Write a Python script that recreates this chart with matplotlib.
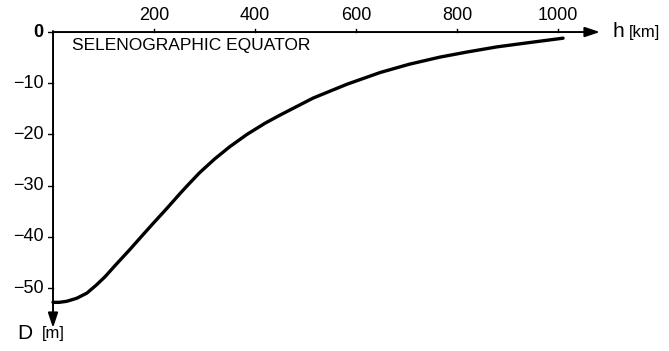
import matplotlib

matplotlib.use("Agg")
import matplotlib.pyplot as plt  # noqa: E402

plt.rcParams["font.family"] = ["Liberation Sans", "DejaVu Sans"]

# altitude h [km] and depression D [m] along the selenographic equator
h_km = [0, 12, 27, 47, 67, 86, 103, 123, 152, 179, 199, 225, 251, 265, 290, 320, 350, 384,
        420, 450, 515, 582, 648, 705, 766, 820, 879, 940, 1010]
d_m = [-52.8, -52.8, -52.6, -52.0, -51.0, -49.4, -47.8, -45.6, -42.5, -39.5, -37.3, -34.5,
       -31.6, -30.1, -27.5, -24.8, -22.4, -20.0, -17.8, -16.2, -12.9, -10.2, -7.9, -6.3,
       -4.9, -3.9, -2.9, -2.1, -1.2]

x_ticks = [200, 400, 600, 800, 1000]
y_ticks = [0, -10, -20, -30, -40, -50]
x_end, y_end = 1083, -57.8

fig = plt.figure(figsize=(6.69, 3.51), dpi=100)
ax = fig.add_axes([0.0717, 0.0336, 0.8379, 0.9043])
ax.set_xlim(-10, 1100)
ax.set_ylim(-60, 2)
ax.axis("off")

ax.plot(h_km, d_m, color="black", lw=2.4, solid_capstyle="round", solid_joinstyle="round")

# axes drawn as arrows: h to the right along D = 0, D downward along h = 0
arrow = dict(arrowstyle="-|>,head_length=0.9,head_width=0.3", color="black", lw=1.4,
             shrinkA=0, shrinkB=0)
ax.annotate("", xy=(x_end, 0), xytext=(0, 0), arrowprops=arrow)
ax.annotate("", xy=(0, y_end), xytext=(0, 0.2), arrowprops=arrow)

for t in x_ticks:
    ax.plot([t, t], [0, 0.6], color="black", lw=1.0)
    ax.text(t, 1.5, f"{t}", ha="center", va="bottom", fontsize=13)
for t in y_ticks:
    ax.plot([-9, 0], [t, t], color="black", lw=1.0)
    label = "0" if t == 0 else f"\u2212{abs(t)}"
    ax.text(-19, t, label, ha="right", va="center", fontsize=13,
            fontweight="bold" if t == 0 else "normal")

ax.text(38, -2.6, "SELENOGRAPHIC EQUATOR", ha="left", va="center", fontsize=12.5)
ax.text(1108, 0.2, "h", ha="left", va="center", fontsize=15, clip_on=False)
ax.text(1140, 0.0, "[km]", ha="left", va="center", fontsize=12, clip_on=False)
ax.text(-70, -58.8, "D", ha="left", va="center", fontsize=15, clip_on=False)
ax.text(-22, -58.9, "[m]", ha="left", va="center", fontsize=12, clip_on=False)

fig.savefig("out.png", dpi=100)
plt.close(fig)
